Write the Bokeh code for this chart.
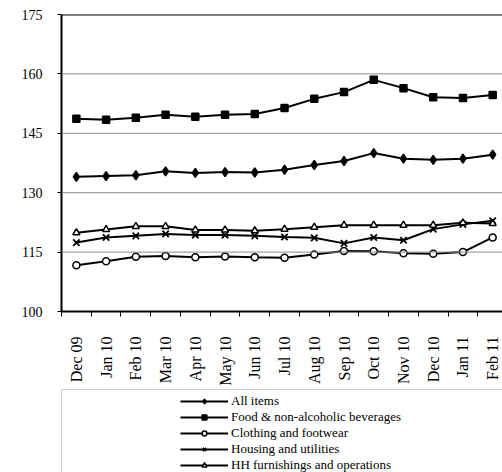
import math
from bokeh.plotting import figure
from bokeh.models import (Range1d, LinearAxis, FixedTicker, Span, Legend, LegendItem,
                          ColumnDataSource)
from bokeh.layouts import column
from bokeh.embed import file_html
from bokeh.resources import INLINE

months = ["Dec 09", "Jan 10", "Feb 10", "Mar 10", "Apr 10", "May 10", "Jun 10", "Jul 10",
          "Aug 10", "Sep 10", "Oct 10", "Nov 10", "Dec 10", "Jan 11", "Feb 11"]

all_items = [134.0, 134.2, 134.4, 135.4, 135.0, 135.2, 135.1, 135.8, 137.0, 138.0, 140.0,
             138.6, 138.3, 138.6, 139.6]
food = [148.7, 148.4, 148.9, 149.7, 149.2, 149.7, 149.9, 151.4, 153.7, 155.4, 158.5,
        156.4, 154.1, 153.9, 154.7]
clothing = [111.7, 112.7, 113.8, 114.0, 113.7, 113.9, 113.7, 113.6, 114.4, 115.3, 115.2,
            114.7, 114.6, 115.0, 118.7]
housing = [117.4, 118.7, 119.1, 119.6, 119.3, 119.3, 119.1, 118.8, 118.6, 117.2, 118.7,
           118.0, 120.8, 122.0, 122.9]
hh_furnishings = [119.9, 120.7, 121.5, 121.5, 120.6, 120.6, 120.4, 120.8, 121.3, 121.8,
                  121.8, 121.8, 121.8, 122.4, 122.2]

series_names = ["All items", "Food & non-alcoholic beverages", "Clothing and footwear",
                "Housing and utilities", "HH furnishings and operations"]
series_values = [all_items, food, clothing, housing, hh_furnishings]
y_ticks = [100, 115, 130, 145, 160, 175]

FONT = "'Liberation Serif', 'Times New Roman', serif"
markers = [("diamond", 9, "black"), ("square", 7, "black"), ("circle", 7, "white"),
           ("x", 9, "black"), ("triangle", 7, "white")]

xs = list(range(len(months)))

p = figure(width=502, height=388, output_backend="svg", toolbar_location=None,
           x_range=Range1d(-0.5, 14.33), y_range=Range1d(100, 175),
           x_axis_type=None, y_axis_type=None,
           min_border_left=56, min_border_right=0, min_border_top=14, min_border_bottom=75)
p.outline_line_color = None
p.background_fill_color = "white"
p.border_fill_color = "white"

yaxis = LinearAxis(ticker=FixedTicker(ticks=y_ticks))
yaxis.axis_line_color = "black"
yaxis.axis_line_width = 2
yaxis.major_tick_out = 4
yaxis.major_tick_in = 0
yaxis.minor_tick_out = 0
yaxis.major_tick_line_color = "black"
yaxis.major_label_standoff = 15
yaxis.major_label_text_font = FONT
yaxis.major_label_text_font_size = "14px"
yaxis.major_label_text_color = "black"
p.add_layout(yaxis, "left")

xaxis = LinearAxis(ticker=FixedTicker(ticks=xs, minor_ticks=[i - 0.5 for i in range(len(months) + 1)]))
xaxis.major_label_overrides = {i: m for i, m in enumerate(months)}
xaxis.major_label_orientation = math.pi / 2
xaxis.axis_line_color = "black"
xaxis.axis_line_width = 2
xaxis.major_tick_out = 0
xaxis.major_tick_in = 0
xaxis.minor_tick_out = 5
xaxis.minor_tick_in = 0
xaxis.minor_tick_line_color = "black"
xaxis.major_label_standoff = 20
xaxis.major_label_text_font = FONT
xaxis.major_label_text_font_size = "16px"
xaxis.major_label_text_color = "black"
p.add_layout(xaxis, "below")

p.ygrid.visible = False
p.xgrid.visible = False
for t in y_ticks[1:-1]:
    p.add_layout(Span(location=t, dimension="width", line_color="#8c8c8c", line_width=1))
p.add_layout(Span(location=175, dimension="width", line_color="black", line_width=2))

for name, vals, (mk, sz, fill) in zip(series_names, series_values, markers):
    src = ColumnDataSource(dict(x=xs, y=vals))
    p.line("x", "y", source=src, line_color="black", line_width=2)
    p.scatter("x", "y", source=src, marker=mk, size=sz, line_color="black",
              fill_color=fill, line_width=1.8 if mk == "x" else 1.5)

# legend panel
q = figure(width=502, height=84, output_backend="svg", toolbar_location=None,
           x_range=Range1d(0, 1), y_range=Range1d(0, 1),
           x_axis_type=None, y_axis_type=None,
           min_border_left=61, min_border_right=0, min_border_top=1, min_border_bottom=0)
q.outline_line_color = None
q.xgrid.visible = False
q.ygrid.visible = False
q.add_layout(Span(location=0, dimension="height", line_color="#a0a0a0", line_width=1))
q.add_layout(Span(location=1, dimension="width", line_color="#a0a0a0", line_width=1))

items = []
for name, (mk, sz, fill) in zip(series_names, markers):
    lr = q.line(x=[-5, -4], y=[-5, -4], line_color="black", line_width=2)
    sr = q.scatter(x=[-5], y=[-5], marker=mk, size=sz, line_color="black", fill_color=fill,
                   line_width=1.5)
    items.append(LegendItem(label=name, renderers=[lr, sr]))

legend = Legend(items=items, location=(119, -1), orientation="vertical")
legend.padding = 0
legend.spacing = 0
legend.margin = 0
legend.glyph_width = 48
legend.glyph_height = 12
legend.label_height = 16
legend.label_standoff = 3
legend.label_text_font = FONT
legend.label_text_font_size = "13px"
legend.label_text_color = "black"
legend.border_line_color = None
legend.background_fill_alpha = 0
q.add_layout(legend, "center")

layout = column(p, q, spacing=0)

with open("out.html", "w") as f:
    f.write(file_html(layout, INLINE))
